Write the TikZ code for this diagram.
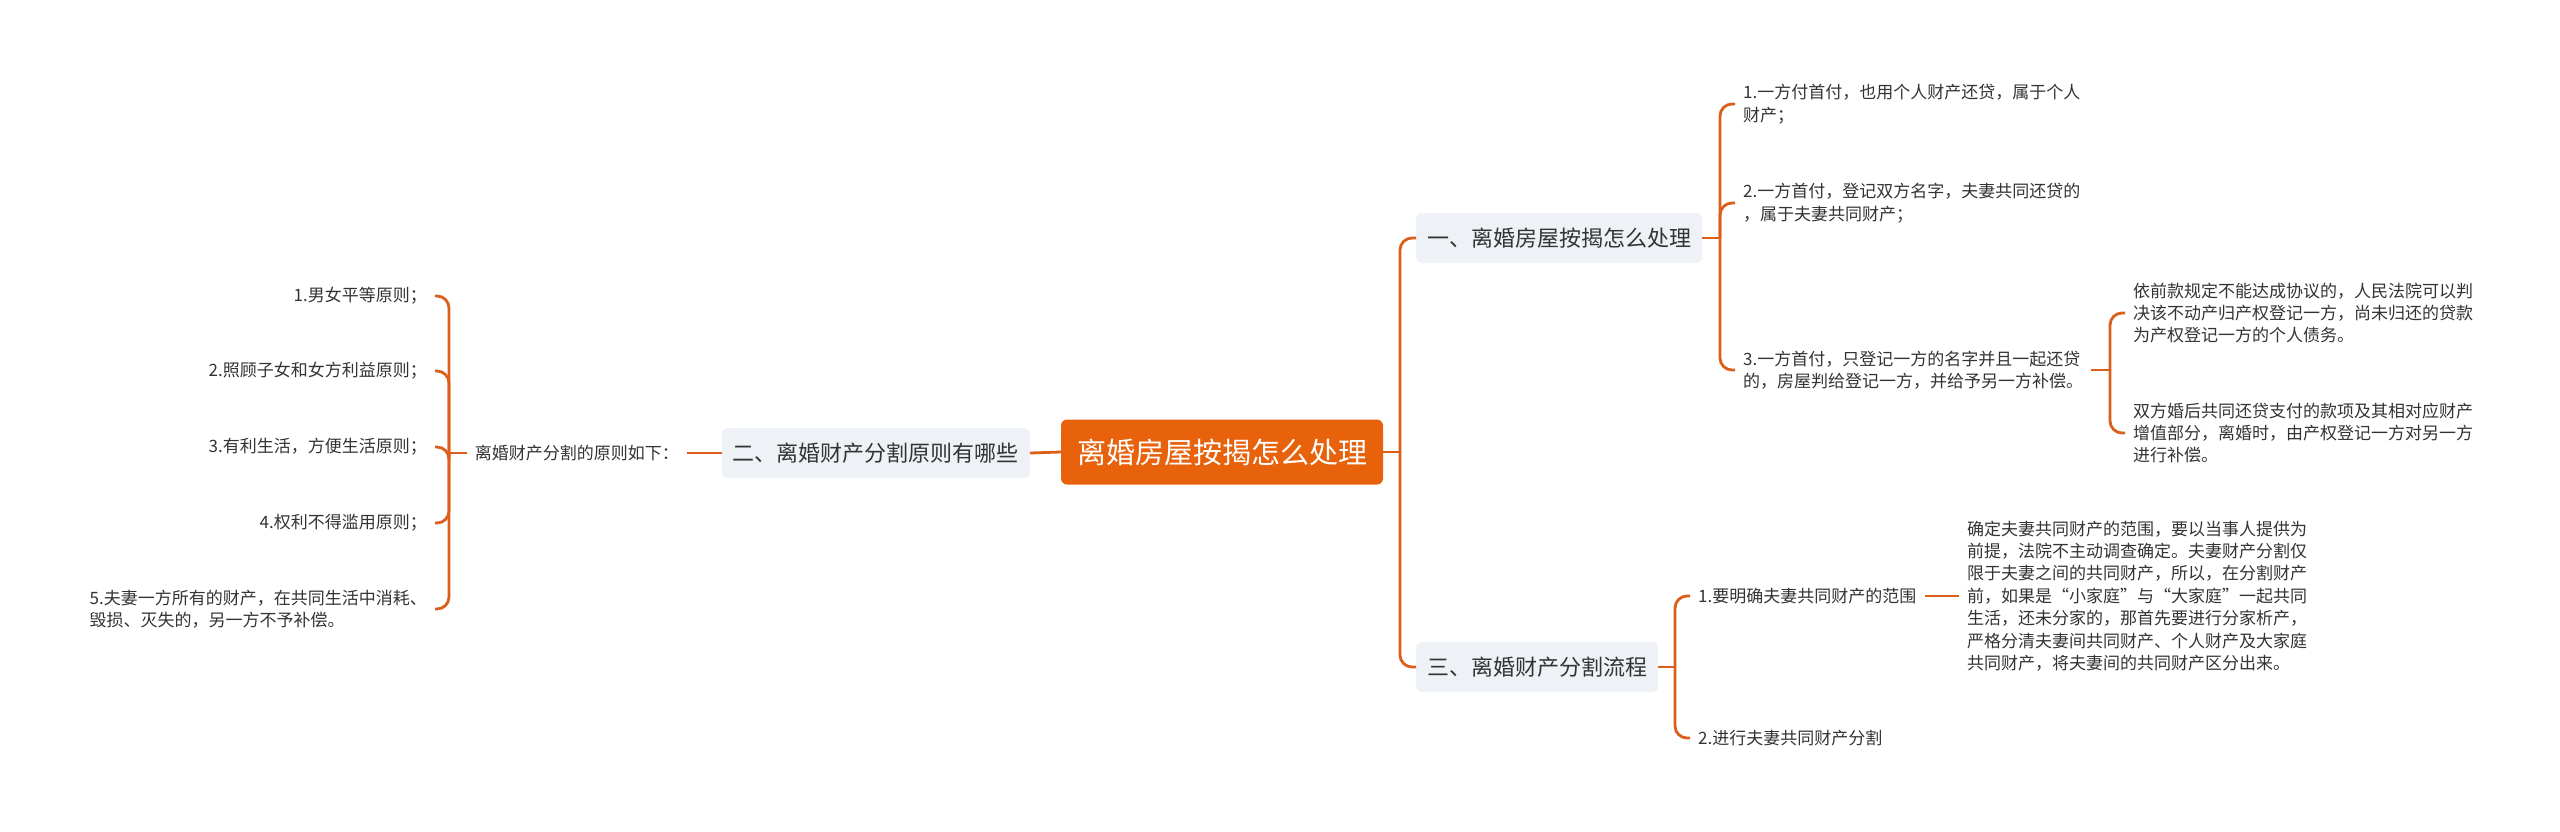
\documentclass[tikz,border=0pt]{standalone}
\usepackage{fontspec}
\newfontfamily\cjk{Noto Sans CJK SC}
\definecolor{mmline}{HTML}{DB5F1B}
\definecolor{mmroot}{HTML}{E8620C}
\definecolor{mmbox}{HTML}{EEF1F5}
\definecolor{mmtext}{HTML}{333333}
\begin{document}
\begin{tikzpicture}[x=1pt, y=-1pt, font=\cjk,
    link/.style={draw=mmline, line width=2.8pt},
    elbow/.style={link, rounded corners=12pt},
    rootbox/.style={fill=mmroot, text=white, rounded corners=6pt, font={\cjk\fontsize{29}{34}\selectfont}, inner xsep=16pt, minimum height=65pt},
    topic/.style={fill=mmbox, text=mmtext, rounded corners=6pt, font={\cjk\fontsize{22}{26}\selectfont}, inner xsep=11pt, minimum height=50pt},
    leaf/.style={text=mmtext, font={\cjk\fontsize{17}{22.4}\selectfont}, inner xsep=8pt, inner ysep=2pt, align=left}]
  \useasboundingbox (0,0) rectangle (2560,831);
  % Units are pixels of the 2560 x 831 page, y grows downwards.
  \node[rootbox] (root) at (1222,452) {离婚房屋按揭怎么处理};
  \node[topic, anchor=east] (b2) at (1030,453) {二、离婚财产分割原则有哪些};
  \node[topic, anchor=west] (b1) at (1416,238) {一、离婚房屋按揭怎么处理};
  \node[topic, anchor=west] (b3) at (1416,667) {三、离婚财产分割流程};
  \node[leaf, anchor=east] (p0) at (687,453) {离婚财产分割的原则如下：};
  \draw[link] (root.west) -- (b2.east);
  \draw[link] (b2.west) -- (p0.east);
  % left side: principles
  \coordinate (lj) at (449,453);
  \draw[link] (p0.west) -- (lj);
  \foreach \n/\y/\t in {1/296/{1.男女平等原则；}, 2/371/{2.照顾子女和女方利益原则；},
      3/447/{3.有利生活，方便生活原则；}, 4/523/{4.权利不得滥用原则；},
      5/609/{5.夫妻一方所有的财产，在共同生活中消耗、\\毁损、灭失的，另一方不予补偿。}} {
    \node[leaf, anchor=east] (l\n) at (435,\y) {\t};
    \draw[elbow] (lj) |- (l\n.east);
  }
  % right side: the two topics
  \coordinate (rj) at (1400,452);
  \draw[link] (root.east) -- (rj);
  \draw[elbow] (rj) |- (b1.west);
  \draw[elbow] (rj) |- (b3.west);
  \coordinate (b1j) at (1720,238);
  \draw[link] (b1.east) -- (b1j);
  \foreach \n/\y/\t in {1/104/{1.一方付首付，也用个人财产还贷，属于个人\\财产；},
      2/203/{2.一方首付，登记双方名字，夫妻共同还贷的\\，属于夫妻共同财产；},
      3/370/{3.一方首付，只登记一方的名字并且一起还贷\\的，房屋判给登记一方，并给予另一方补偿。}} {
    \node[leaf, anchor=west] (r\n) at (1735,\y) {\t};
    \draw[elbow] (b1j) |- (r\n.west);
  }
  \coordinate (r3j) at (2110,370);
  \draw[link] (r3.east) -- (r3j);
  \foreach \n/\y/\t in {1/313/{依前款规定不能达成协议的，人民法院可以判\\决该不动产归产权登记一方，尚未归还的贷款\\为产权登记一方的个人债务。},
      2/433/{双方婚后共同还贷支付的款项及其相对应财产\\增值部分，离婚时，由产权登记一方对另一方\\进行补偿。}} {
    \node[leaf, anchor=west] (s\n) at (2125,\y) {\t};
    \draw[elbow] (r3j) |- (s\n.west);
  }
  \coordinate (b3j) at (1675,667);
  \draw[link] (b3.east) -- (b3j);
  \node[leaf, anchor=west] (t1) at (1690,596) {1.要明确夫妻共同财产的范围};
  \node[leaf, anchor=west] (t2) at (1690,738) {2.进行夫妻共同财产分割};
  \draw[elbow] (b3j) |- (t1.west);
  \draw[elbow] (b3j) |- (t2.west);
  \node[leaf, anchor=west] (u1) at (1959,596) {确定夫妻共同财产的范围，要以当事人提供为\\前提，法院不主动调查确定。夫妻财产分割仅\\限于夫妻之间的共同财产，所以，在分割财产\\前，如果是“小家庭”与“大家庭”一起共同\\生活，还未分家的，那首先要进行分家析产，\\严格分清夫妻间共同财产、个人财产及大家庭\\共同财产，将夫妻间的共同财产区分出来。};
  \draw[link] (t1.east) -- (u1.west);
\end{tikzpicture}
\end{document}
